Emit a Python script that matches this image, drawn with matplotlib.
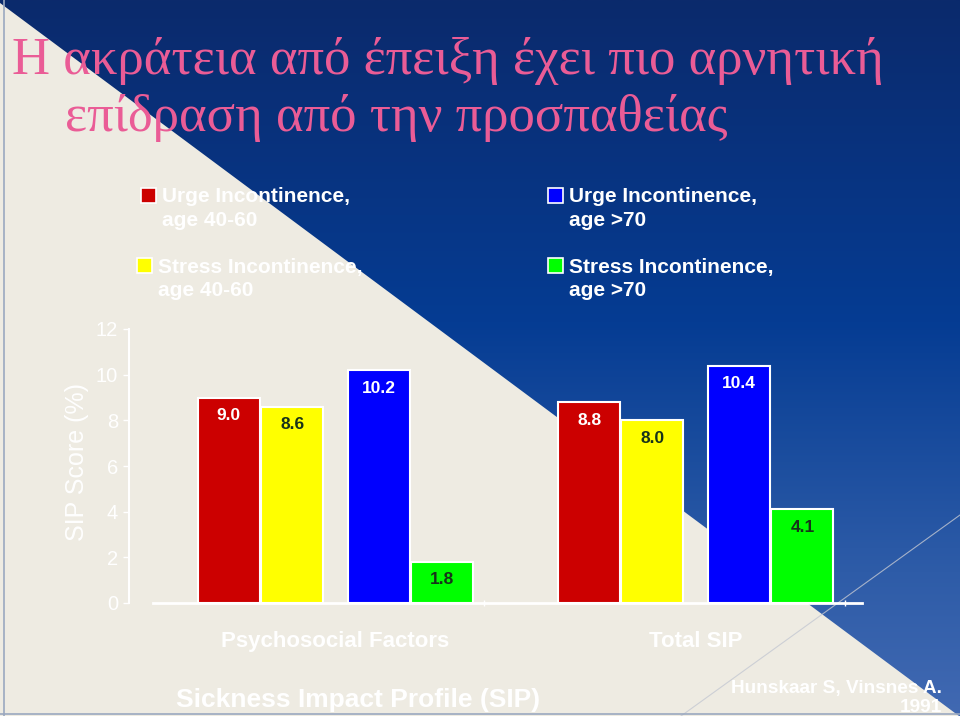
import matplotlib.pyplot as plt
import numpy as np
from matplotlib.patches import Polygon, Rectangle
from matplotlib.colors import LinearSegmentedColormap

# data
groups = ['Psychosocial Factors', 'Total SIP']
series_names = ['Urge Incontinence,\nage 40-60', 'Stress Incontinence,\nage 40-60',
                'Urge Incontinence,\nage >70', 'Stress Incontinence,\nage >70']
urge_40_60 = [9.0, 8.8]
stress_40_60 = [8.6, 8.0]
urge_70 = [10.2, 10.4]
stress_70 = [1.8, 4.1]
y_ticks = [0, 2, 4, 6, 8, 10, 12]

title_lines = ['Η ακράτεια από έπειξη έχει πιο αρνητική', 'επίδραση από την προσπαθείας']

color_red = '#CC0000'
color_yellow = '#FFFF00'
color_blue = '#0000FF'
color_green = '#00FF00'
cream = '#EEEBE2'
pink = '#EA5C96'

W, H = 960, 716


def px(x, y):
    # pixel position (from top-left) -> figure fraction
    return x / W, 1 - y / H


fig = plt.figure(figsize=(9.6, 7.16), dpi=100)
fig.patch.set_facecolor(cream)

# background: cream + blue gradient triangle (upper right)
bg = fig.add_axes([0, 0, 1, 1])
bg.set_xlim(0, W)
bg.set_ylim(H, 0)
bg.axis('off')
cmap = LinearSegmentedColormap.from_list('bg', [(0, '#0B2A6C'), (0.45, '#053C93'),
                                               (0.8, '#2E5CA8'), (1, '#4169B2')])
grad = np.linspace(0, 1, 256).reshape(-1, 1)
im = bg.imshow(grad, cmap=cmap, extent=[0, W, H, 0], aspect='auto')
tri = Polygon([(-4, 0), (W, 0), (W, H), (959, H)], closed=True, transform=bg.transData,
              facecolor='none', edgecolor='none')
bg.add_patch(tri)
im.set_clip_path(tri)
bg.plot([681, 960], [716, 515], color='#C4C8D2', lw=0.8, alpha=0.8)
bg.plot([4, 4], [0, H], color='#9AA8C0', lw=1.2)
bg.plot([0, W], [714, 714], color='#9AA8C0', lw=1.2)

# title
fig.text(*px(12, 74), title_lines[0], fontsize=38, color=pink, family='Liberation Serif',
         ha='left', va='baseline')
fig.text(*px(65, 131), title_lines[1], fontsize=38, color=pink, family='Liberation Serif',
         ha='left', va='baseline')

# legend drawn by hand
legend_colors = [color_red, color_yellow, color_blue, color_green]
legend_boxes = [(141, 188), (137, 258), (548, 188), (548, 258)]
legend_text_x = [162, 158, 569, 569]
for name, c, (bx, by), tx in zip(series_names, legend_colors, legend_boxes, legend_text_x):
    bg.add_patch(Rectangle((bx, by), 15, 15, facecolor=c, edgecolor='white', lw=1.2))
    l1, l2 = name.split('\n')
    fig.text(*px(tx, by + 9), l1, fontsize=15, color='white', fontweight='bold',
             family='Liberation Sans', va='center', ha='left')
    fig.text(*px(tx, by + 32), l2, fontsize=15, color='white', fontweight='bold',
             family='Liberation Sans', va='center', ha='left')

# main chart
ax = fig.add_axes([px(129, 0)[0], px(0, 603)[1], (862 - 129) / W, (603 - 329) / H])
ax.patch.set_alpha(0)

bar_width = 1.0
offsets = [-1.72, -0.70, 0.70, 1.72]
group_pos = np.array([3.33, 9.14])
all_series = [urge_40_60, stress_40_60, urge_70, stress_70]
label_colors = ['white', '#17331A', 'white', '#17331A']

for vals, c, off, lc in zip(all_series, legend_colors, offsets, label_colors):
    xs = group_pos + off
    ax.bar(xs, vals, width=bar_width, color=c, edgecolor='white', linewidth=1.5, zorder=3)
    for x, v in zip(xs, vals):
        ax.annotate(f'{v:.1f}', (x, v), xytext=(0, -13), textcoords='offset points',
                    ha='center', va='center', fontsize=12.5, fontweight='bold',
                    color=lc, family='Liberation Sans', zorder=4)

ax.set_xlim(0, 11.82)
ax.set_ylim(0, 12)
ax.set_yticks(y_ticks)
ax.set_yticklabels([str(t) for t in y_ticks])
ax.set_xticks(group_pos)
ax.set_xticklabels(groups)
ax.set_xticks(group_pos + 2.4, minor=True)

for s in ['top', 'right']:
    ax.spines[s].set_visible(False)
ax.spines['left'].set_color('white')
ax.spines['left'].set_linewidth(1.5)
ax.spines['bottom'].set_color('white')
ax.spines['bottom'].set_linewidth(2)
ax.spines['bottom'].set_bounds(0.39, 11.82)

ax.tick_params(axis='y', colors='white', length=4, width=1, labelsize=14.5, pad=4)
ax.tick_params(axis='x', which='major', length=0, colors='white', labelsize=16, pad=20)
ax.tick_params(axis='x', which='minor', length=5, width=1, color='white', direction='inout')
for lab in ax.get_xticklabels() + ax.get_yticklabels():
    lab.set_family('Liberation Sans')
for lab in ax.get_xticklabels():
    lab.set_fontweight('bold')

fig.text(*px(77, 462), 'SIP Score (%)', rotation=90, fontsize=18, color='white',
         family='Liberation Sans', ha='center', va='center')

fig.text(*px(176, 700), 'Sickness Impact Profile (SIP)', fontsize=19, color='white',
         family='Liberation Sans', fontweight='bold', ha='left', va='center')
fig.text(*px(942, 689), 'Hunskaar S, Vinsnes A.', fontsize=13.7, color='white',
         family='Liberation Sans', fontweight='bold', ha='right', va='center')
fig.text(*px(942, 707), '1991', fontsize=13.7, color='white',
         family='Liberation Sans', fontweight='bold', ha='right', va='center')

fig.savefig('out.png', dpi=100, facecolor=fig.get_facecolor())
